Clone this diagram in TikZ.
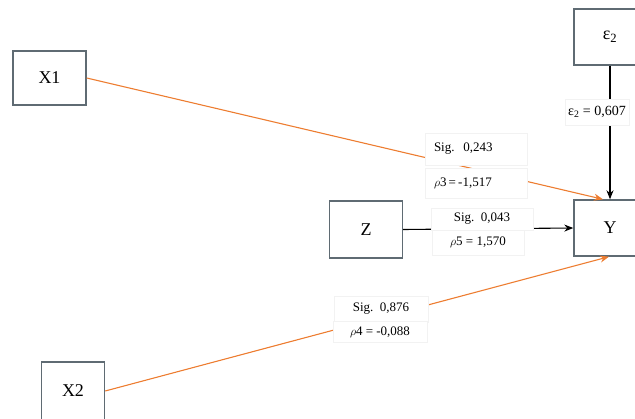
\documentclass[tikz,border=0pt]{standalone}
\usepackage{fontspec}
\setmainfont{Liberation Serif}
\usetikzlibrary{arrows.meta}
\definecolor{boxline}{HTML}{5F6B73}
\definecolor{orangeln}{HTML}{ED7D31}
\tikzset{
  varbox/.style={draw=boxline, line width=1.4pt, fill=white, inner sep=0pt, font=\fontsize{18}{20}\selectfont},
  lbl/.style={draw=gray!10, fill=white, inner sep=2pt, font=\fontsize{13}{15}\selectfont},
  oarrow/.style={draw=orangeln, line width=1.1pt, -{Stealth[length=9pt,width=7pt]}},
  barrow/.style={draw=black, line width=1.1pt, -{Stealth[length=9pt,width=7pt]}},
}
\begin{document}
\begin{tikzpicture}[x=1pt,y=-1pt]
\useasboundingbox (0,0) rectangle (635,419);
\clip (0,0) rectangle (635,419);
\node[varbox, minimum width=73pt, minimum height=54pt] (x1) at (49.5,78) {X1};
\node[varbox, minimum width=63pt, minimum height=58pt] (x2) at (73,391) {X2};
\node[varbox, minimum width=73pt, minimum height=57pt] (z) at (366,229.5) {Z};
\node[varbox, minimum width=72pt, minimum height=56pt] (y) at (610,228) {Y};
\node[varbox, minimum width=72pt, minimum height=56pt] (e) at (610,37) {ε\textsubscript{2}};
\coordinate (yin1) at ([xshift=-7pt]y.north);
\coordinate (yin2) at ([xshift=-1pt]y.south);
\draw[oarrow] (x1.east) -- (yin1);
\draw[oarrow] (x2.east) -- (yin2);
\draw[barrow] (z.east) -- (y.west);
\draw[barrow] (e.south) -- (y.north);
\node[lbl, text width=84pt, align=left, inner xsep=9pt, minimum height=32pt] (l1) at (476,149) {Sig.\ \ 0,243};
\node[lbl, text width=84pt, align=left, inner xsep=9pt, minimum height=30pt] (l2) at (476,183) {$\rho$3\,=\,-1,517};
\node[lbl, minimum width=102pt, minimum height=22pt] (l3) at (482,219) {Sig.\ \ 0,043};
\node[lbl, minimum width=92pt, minimum height=25pt] (l4) at (478,242.5) {$\rho$5 = 1,570};
\node[lbl, minimum width=94pt, minimum height=26pt] (l5) at (381,309) {Sig.\ \ 0,876};
\node[lbl, minimum width=94pt, minimum height=21pt] (l6) at (380,332) {$\rho$4 = -0,088};
\node[lbl, anchor=west, inner xsep=3pt, minimum height=26pt, font=\fontsize{14}{16}\selectfont] (l7) at (565,112) {ε\textsubscript{2} = 0,607};
\end{tikzpicture}
\end{document}
